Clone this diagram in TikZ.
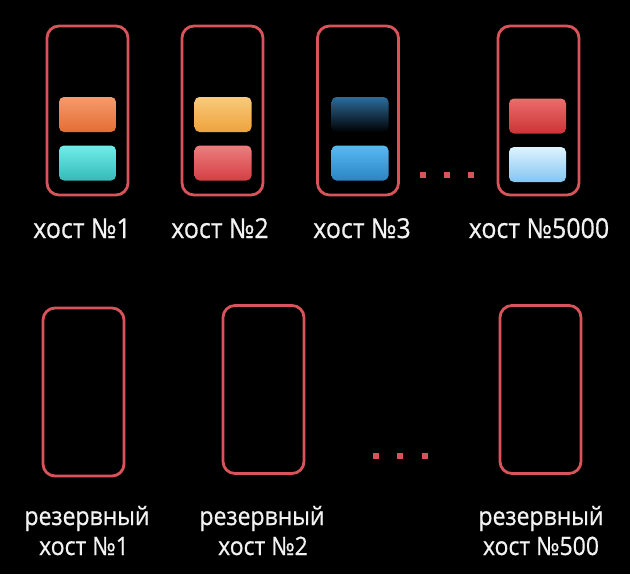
\documentclass[tikz,border=0pt]{standalone}
\usepackage{fontspec}
\setmainfont{Open Sans}
\newfontfamily\lblfont{Open Sans}[FakeBold=0.7]
\definecolor{hostred}{HTML}{D9535A}
\definecolor{txt}{HTML}{F2F2F2}
\definecolor{orT}{HTML}{F49B6E}\definecolor{orB}{HTML}{E46D33}
\definecolor{cyT}{HTML}{70EDEA}\definecolor{cyB}{HTML}{34BAB8}
\definecolor{yeT}{HTML}{F8CA7C}\definecolor{yeB}{HTML}{EEA23C}
\definecolor{rdT}{HTML}{EC7E7E}\definecolor{rdB}{HTML}{D53E44}
\definecolor{nvT}{HTML}{2C6C9C}\definecolor{nvM}{HTML}{0C2640}
\definecolor{blT}{HTML}{58BAF2}\definecolor{blB}{HTML}{2B84C4}
\definecolor{r2T}{HTML}{EC6C6C}\definecolor{r2B}{HTML}{CB3436}
\definecolor{lbT}{HTML}{DEF3FF}\definecolor{lbB}{HTML}{84C5F1}
\newcommand{\tallt}[1]{\scalebox{1}[1.1]{#1}}
\tikzset{
  hostbox/.style={draw=hostred, line width=2.8pt, rounded corners=12pt, minimum width=81pt, minimum height=169pt, inner sep=0pt},
  bar/.style={rounded corners=5pt, minimum width=57pt, minimum height=35pt, inner sep=0pt},
  dot/.style={fill=hostred, minimum size=6pt, inner sep=0pt},
  toplabel/.style={text=txt, font=\lblfont\fontsize{25}{30}\selectfont, anchor=base, inner sep=0pt},
  botlabel/.style={text=txt, font=\lblfont\fontsize{23}{28}\selectfont, anchor=base, inner sep=0pt}
}
\begin{document}
\begin{tikzpicture}[x=1pt,y=-1pt]
\fill[black] (0,0) rectangle (630,574);
\useasboundingbox (0,0) rectangle (630,574);
% top hosts
\node[hostbox] (h1) at (87.5,110.5) {};
\node[hostbox] (h2) at (222.5,110.5) {};
\node[hostbox] (h3) at (358,110.5) {};
\node[hostbox] (h4) at (538.5,110.5) {};
% bars
\node[bar, top color=orT, bottom color=orB] (h1a) at (87.5,114.5) {};
\node[bar, top color=cyT, bottom color=cyB] (h1b) at (87.5,163) {};
\node[bar, top color=yeT, bottom color=yeB] (h2a) at (223,114.5) {};
\node[bar, top color=rdT, bottom color=rdB] (h2b) at (223,163) {};
\node[bar, top color=nvT, middle color=nvM, bottom color=black] (h3a) at (360,114.5) {};
\node[bar, top color=blT, bottom color=blB] (h3b) at (360,163) {};
\node[bar, top color=r2T, bottom color=r2B] (h4a) at (537.5,116) {};
\node[bar, top color=lbT, bottom color=lbB] (h4b) at (537.5,164.5) {};
% dots top
\node[dot] (d1) at (423,175) {};
\node[dot] (d2) at (447,175) {};
\node[dot] (d3) at (471,175) {};
% top labels
\node[toplabel] (l1) at (82,238) {\tallt{хост №1}};
\node[toplabel] (l2) at (220,238) {\tallt{хост №2}};
\node[toplabel] (l3) at (362,238) {\tallt{хост №3}};
\node[toplabel] (l4) at (539,238) {\tallt{хост №5000}};
% reserve hosts
\node[hostbox, minimum height=168pt] (r1) at (83.5,392) {};
\node[hostbox, minimum height=168pt] (r2) at (263.5,389.5) {};
\node[hostbox, minimum height=168pt] (r3) at (540.5,389.5) {};
% dots bottom
\node[dot] (e1) at (376,456) {};
\node[dot] (e2) at (400,456) {};
\node[dot] (e3) at (425,456) {};
% bottom labels
\node[botlabel] (rl1a) at (87,525) {\tallt{резервный}};
\node[botlabel] (rl1b) at (84,555) {\tallt{хост №1}};
\node[botlabel] (rl2a) at (262,525) {\tallt{резервный}};
\node[botlabel] (rl2b) at (263,555) {\tallt{хост №2}};
\node[botlabel] (rl3a) at (541,525) {\tallt{резервный}};
\node[botlabel] (rl3b) at (541,555) {\tallt{хост №500}};
\end{tikzpicture}
\end{document}
